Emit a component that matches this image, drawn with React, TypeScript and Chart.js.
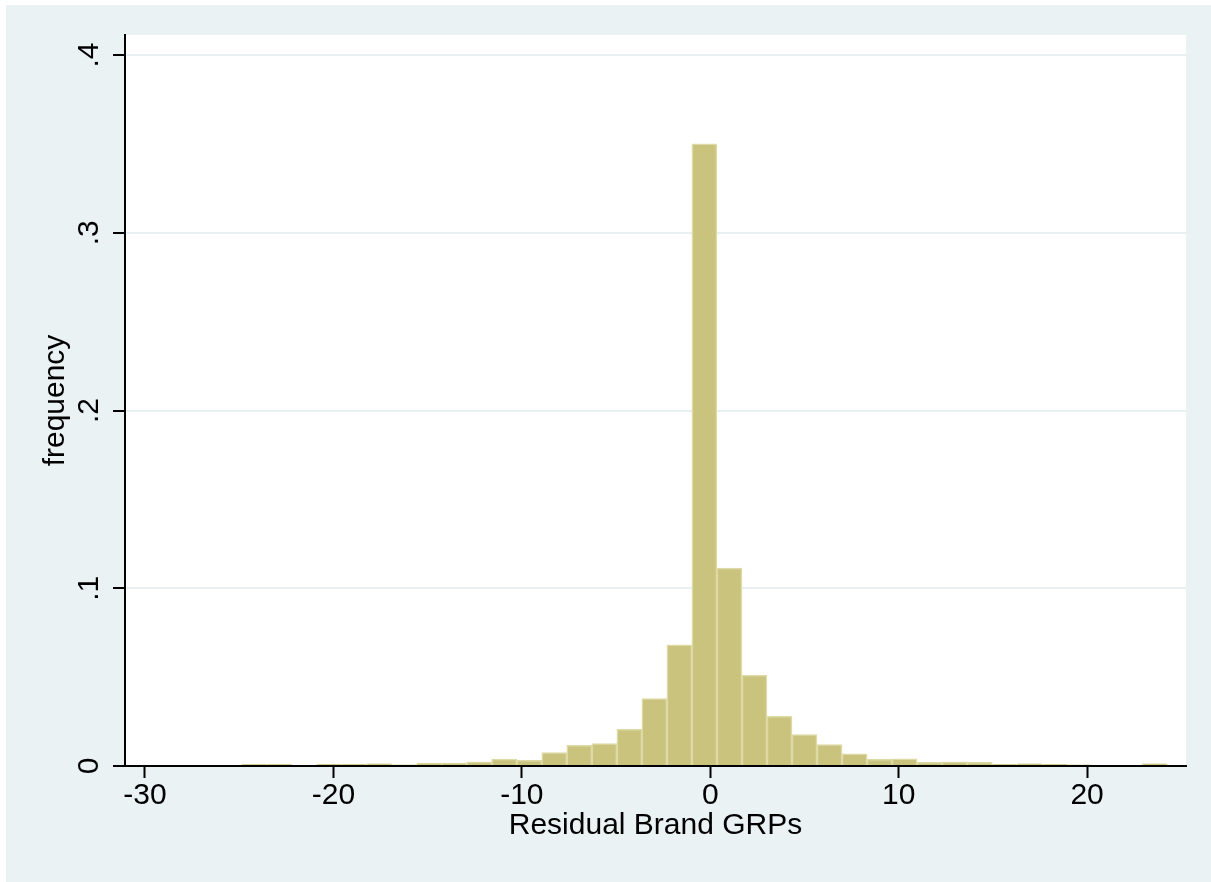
import { useEffect, useRef } from 'react';
import { Chart, registerables } from 'chart.js';

Chart.register(...registerables);

// Histogram bins: first bin starts at binStart, every bin is binWidth wide
const binStart = -24.876;
const binWidth = 1.328;
const frequency = [
  0.0011, 0.0011, 0, 0.0009, 0.0009, 0.0013, 0.0007, 0.0017, 0.0017, 0.0023,
  0.0039, 0.0032, 0.0075, 0.0117, 0.0126, 0.0206, 0.038, 0.0682, 0.35, 0.1114,
  0.0512, 0.028, 0.0177, 0.012, 0.0068, 0.0037, 0.0041, 0.002, 0.0024, 0.002,
  0.0009, 0.0013, 0.0009, 0.0007, 0, 0, 0.0013,
];

const xTickValues = [-30, -20, -10, 0, 10, 20];
const yTickValues = [0, 0.1, 0.2, 0.3, 0.4];
const xRange = [-31.06, 25.25];
const yRange = [0, 0.4113];
const xTitle = 'Residual Brand GRPs';
const yTitle = 'frequency';

const FONT = '"Liberation Sans", Arial, Helvetica, sans-serif';
const PAGE_BG = '#EAF2F3';
const GRID = '#E8F0F1';
const BAR_FILL = '#CAC37E';
const BAR_EDGE = '#DEDAA6';

// Stata-style labels: ".1", ".2" ... and "0"
const fmtY = (v: number) => (v === 0 ? '0' : v.toFixed(1).replace(/^0/, ''));

const framePlugin = {
  id: 'stataFrame',
  beforeDraw(chart: any) {
    const { ctx, chartArea } = chart;
    ctx.save();
    ctx.fillStyle = '#ffffff';
    ctx.fillRect(chartArea.left, chartArea.top, chartArea.right - chartArea.left, chartArea.bottom - chartArea.top);
    ctx.restore();
  },
  afterDraw(chart: any) {
    // vertical (rotated) y tick labels
    const { ctx } = chart;
    const y = chart.scales.y;
    ctx.save();
    ctx.font = `30px ${FONT}`;
    ctx.fillStyle = '#000';
    ctx.textAlign = 'center';
    ctx.textBaseline = 'alphabetic';
    for (const t of y.ticks) {
      const py = y.getPixelForValue(t.value);
      ctx.save();
      ctx.translate(y.right - 27.5, py);
      ctx.rotate(-Math.PI / 2);
      ctx.fillText(fmtY(t.value), 0, 0);
      ctx.restore();
    }
    ctx.restore();
  },
};

export default function App() {
  const canvasRef = useRef<HTMLCanvasElement | null>(null);

  useEffect(() => {
    const canvas = canvasRef.current;
    if (!canvas) return;
    const points = frequency.map((f, i) => ({ x: binStart + (i + 0.5) * binWidth, y: f }));

    const chart = new Chart(canvas, {
      type: 'bar',
      data: {
        datasets: [
          {
            data: points as any,
            backgroundColor: BAR_FILL,
            borderColor: BAR_EDGE,
            borderWidth: 1.5,
            barPercentage: 1,
            categoryPercentage: 1,
          },
        ],
      },
      options: {
        animation: false,
        responsive: false,
        devicePixelRatio: 1,
        layout: { padding: { left: 0, top: 30, right: 25, bottom: 38 } },
        plugins: { legend: { display: false }, tooltip: { enabled: false } },
        scales: {
          x: {
            type: 'linear',
            offset: false,
            min: xRange[0],
            max: xRange[1],
            afterBuildTicks: (scale: any) => {
              scale.ticks = xTickValues.map((v) => ({ value: v }));
            },
            afterFit: (scale: any) => {
              scale.height = 78;
            },
            grid: {
              offset: false,
              drawOnChartArea: false,
              drawTicks: true,
              tickLength: 12,
              tickColor: '#000',
              tickWidth: 2,
            },
            border: { display: true, color: '#000', width: 2, z: 1 },
            ticks: {
              autoSkip: false,
              maxRotation: 0,
              minRotation: 0,
              padding: 0,
              color: '#000',
              font: { family: FONT, size: 30 },
              callback: (v: any) => String(v),
            },
            title: {
              display: true,
              text: xTitle,
              color: '#000',
              font: { family: FONT, size: 30 },
              padding: { top: 0, bottom: 0 },
            },
          },
          y: {
            type: 'linear',
            min: yRange[0],
            max: yRange[1],
            afterBuildTicks: (scale: any) => {
              scale.ticks = yTickValues.map((v) => ({ value: v }));
            },
            afterFit: (scale: any) => {
              scale.width = 119;
            },
            grid: {
              drawOnChartArea: true,
              drawTicks: true,
              tickLength: 12,
              tickColor: '#000',
              tickWidth: 2,
              lineWidth: 2,
              color: (c: any) => (c.tick && c.tick.value === 0 ? 'rgba(0,0,0,0)' : GRID),
            },
            border: { display: true, color: '#000', width: 2 },
            ticks: { display: false },
            title: {
              display: true,
              text: yTitle,
              color: '#000',
              font: { family: FONT, size: 30 },
              padding: { top: 32, bottom: 0 },
            },
          },
        },
      },
      plugins: [framePlugin],
    });

    return () => chart.destroy();
  }, []);

  return (
    <div
      style={{
        position: 'fixed',
        left: 6,
        top: 5,
        right: 0,
        bottom: 0,
        overflow: 'hidden',
        background: PAGE_BG,
      }}
    >
      <canvas ref={canvasRef} width={1205} height={877} style={{ display: 'block' }} />
    </div>
  );
}
